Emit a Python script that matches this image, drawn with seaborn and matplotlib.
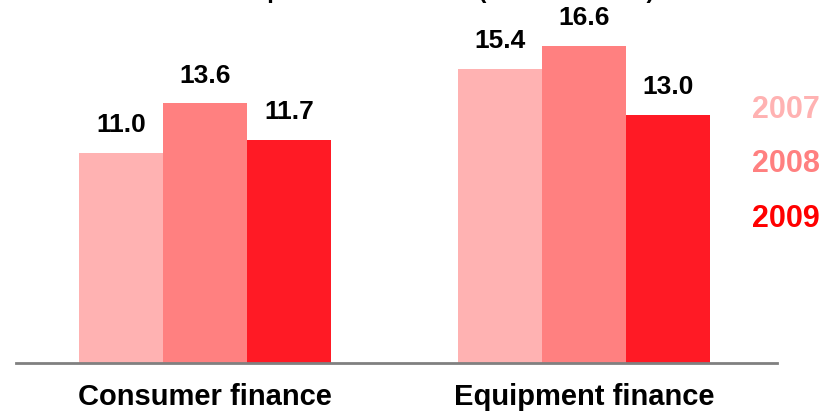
import matplotlib
matplotlib.use("Agg")
import matplotlib.pyplot as plt
import seaborn as sns
import pandas as pd

categories = ["Consumer finance", "Equipment finance"]
years = ["2007", "2008", "2009"]
values_2007 = [11.0, 15.4]
values_2008 = [13.6, 16.6]
values_2009 = [11.7, 13.0]
title_text = "Total profit contribution (in EUR million)"

bar_colors = ["#FFB2B2", "#FF8080", "#FF1A25"]
legend_colors = ["#FFB2B2", "#FF8080", "#FF0000"]

sns.set_theme(style="white")
plt.rcParams["font.family"] = ["Liberation Sans", "DejaVu Sans"]

rows = []
for yr, vals in zip(years, [values_2007, values_2008, values_2009]):
    for c, v in zip(categories, vals):
        rows.append({"category": c, "year": yr, "value": v})
df = pd.DataFrame(rows)

fig = plt.figure(figsize=(8.36, 4.14), dpi=100)
ax = fig.add_axes([16 / 836, 50 / 414, (777 - 16) / 836, 364 / 414])

sns.barplot(data=df, x="category", y="value", hue="year", order=categories,
            hue_order=years, palette=bar_colors, width=0.665, saturation=1,
            edgecolor="none", linewidth=0, legend=False, ax=ax)

for cont in ax.containers:
    ax.bar_label(cont, fmt="%.1f", padding=12, fontsize=19, fontweight="bold",
                 color="black")

ax.set_xlim(-0.5, 1.51)
ax.set_ylim(0, 364 / 19.1)
ax.set_xlabel("")
ax.set_ylabel("")
ax.set_yticks([])
ax.tick_params(axis="x", length=0, pad=14, labelsize=21)
for t in ax.get_xticklabels():
    t.set_fontweight("bold")
    t.set_color("black")
for s in ["top", "right", "left"]:
    ax.spines[s].set_visible(False)
ax.spines["bottom"].set_color("#808080")
ax.spines["bottom"].set_linewidth(2)

for yr, col, ypix in zip(years, legend_colors, [110, 164, 219]):
    fig.text(752 / 836, 1 - ypix / 414, yr, color=col, fontsize=22,
             fontweight="bold", ha="left", va="center")

fig.text(206 / 836, 1 + 2 / 414, title_text, fontsize=17, fontweight="bold",
         ha="left", va="baseline", color="black")

fig.savefig("out.png", dpi=100)
